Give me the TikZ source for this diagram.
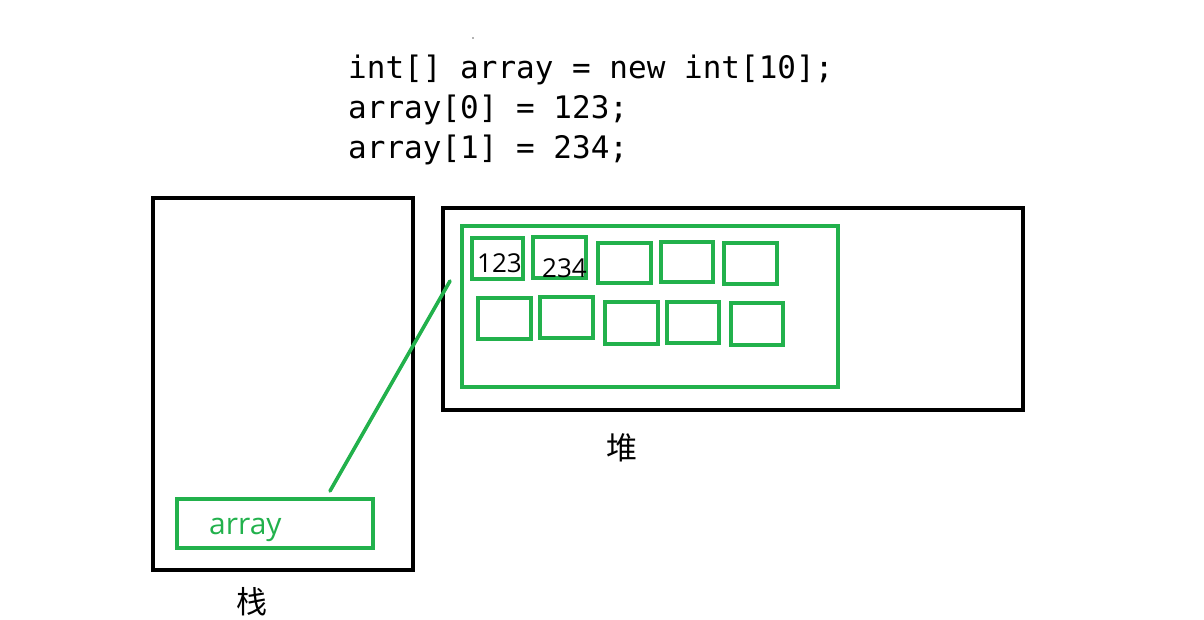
\documentclass[tikz,border=0pt]{standalone}
\usepackage{fontspec}
\setmainfont{Open Sans}
\newfontfamily\codefont{DejaVu Sans Mono}
\newfontfamily\cjkfont{Noto Sans CJK SC}
\definecolor{pgreen}{HTML}{22B14C}
\begin{document}
\begin{tikzpicture}[x=1pt,y=-1pt,
  blackbox/.style={draw=black,line width=4pt},
  greenbox/.style={draw=pgreen,line width=3.6pt},
  cellbox/.style={draw=pgreen,line width=3.6pt},
  codetext/.style={font=\codefont\fontsize{31}{38}\selectfont,anchor=base west,inner sep=0pt},
  cjklabel/.style={font=\cjkfont\fontsize{31}{36}\selectfont,inner sep=0pt},
  numtext/.style={font=\fontsize{26}{30}\selectfont,anchor=base west,inner sep=0pt},
]
\useasboundingbox (0,0) rectangle (1204,619);
% code
\node[codetext] (c1) at (348,78) {int[] array = new int[10];};
\node[codetext] (c2) at (348,118) {array[0] = 123;};
\node[codetext] (c3) at (348,158) {array[1] = 234;};
\fill[black!60] (473,38) circle (0.8);
% stack
\draw[blackbox] (153,198) rectangle (413,570);
\node[inner sep=0pt] (stack) at (283,384) {};
\draw[greenbox] (177,499) rectangle (373,548);
\node[inner sep=0pt] (arrbox) at (275,523.5) {};
\node[font=\fontsize{30}{34}\selectfont,text=pgreen,anchor=base west,inner sep=0pt] (arrtxt) at (209,534) {array};
\node[cjklabel] (stacklbl) at (252,602) {栈};
% heap
\draw[blackbox] (443,208) rectangle (1023,410);
\draw[greenbox] (462,226) rectangle (838,387);
\node[cjklabel] (heaplbl) at (622,448) {堆};
% cells row 1
\draw[cellbox] (472,238) rectangle (523,279);
\draw[cellbox] (533,237) rectangle (586,278);
\draw[cellbox] (598,243) rectangle (651,283);
\draw[cellbox] (661,242) rectangle (713,282);
\draw[cellbox] (724,243) rectangle (777,284);
% cells row 2
\draw[cellbox] (478,298) rectangle (531,339);
\draw[cellbox] (540,297) rectangle (593,338);
\draw[cellbox] (605,302) rectangle (658,344);
\draw[cellbox] (667,302) rectangle (719,343);
\draw[cellbox] (731,303) rectangle (783,345);
% values
\node[numtext] (v1) at (477,272) {123};
\node[numtext] (v2) at (542,277) {234};
% connector
\coordinate (pa) at (330,491);
\coordinate (pb) at (450,281);
\draw[pgreen,line width=3.6pt,line cap=round] (pa) -- (pb);
\end{tikzpicture}
\end{document}
